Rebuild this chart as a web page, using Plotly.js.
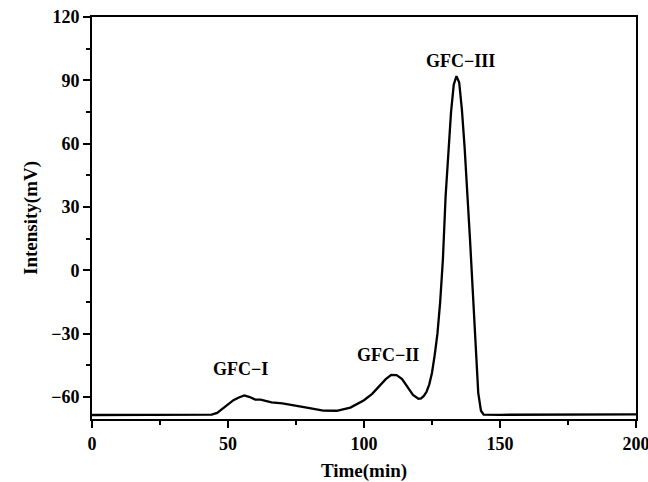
<!DOCTYPE html>
<html><head><meta charset="utf-8">
<script src="https://cdn.plot.ly/plotly-3.0.1.min.js"></script>
<style>body{margin:0;background:#fff}</style>
</head><body>
<div id="chart" style="width:648px;height:482px"></div>
<script>
const time = [0,10,20,30,40,44,46,48,50,52,54,56,58,60,62,64,66,70,75,80,85,90,95,100,103,106,108,110,112,114,116,118,120,121,122,123,124,125,126,127,128,129,130,131,132,133,134,135,136,137,138,139,140,141,142,143,144,150,160,180,200];
const intensity = [-68.5,-68.5,-68.5,-68.5,-68.5,-68.3,-67.5,-65.5,-63.3,-61.5,-60.2,-59.2,-60,-61.2,-61.2,-62,-62.5,-63,-64,-65.3,-66.4,-66.5,-65,-61.5,-58.5,-54.5,-51.5,-49.5,-49.6,-51.5,-55,-59,-60.8,-60.6,-59.5,-57.5,-54,-48.5,-40,-30,-15,5,35,57,75,88,92,89,76,58,38,14,-10,-36,-58,-66.5,-68.3,-68.4,-68.4,-68.4,-68.2];
const peakLabels = ["GFC\u2212I","GFC\u2212II","GFC\u2212III"];
const peakX = [54.5,109,135.5];
const peakY = [-46.5,-40,99];

const fam = '"Liberation Serif", "Times New Roman", serif';
const tickFont = {family:fam, size:18, color:'#000', weight:'bold'};
const titleFont = {family:fam, size:19, color:'#000', weight:'bold'};
const annFont = {family:fam, size:18, color:'#000', weight:'bold'};
const trace = {x: time, y: intensity, mode:'lines', line:{color:'#000', width:2.3}, hoverinfo:'skip'};
const layout = {
  width:648, height:482,
  margin:{l:92, r:12, t:17, b:63},
  paper_bgcolor:'#fff', plot_bgcolor:'#fff',
  showlegend:false,
  font: tickFont,
  xaxis:{range:[0,200], dtick:50, tick0:0, ticks:'outside', ticklen:7, tickwidth:2, tickcolor:'#000',
    showline:true, linewidth:2, linecolor:'#000', mirror:true, showgrid:false, zeroline:false,
    ticklabeloverflow:'allow',
    tickfont:tickFont, minor:{dtick:25, ticks:'outside', ticklen:4, tickwidth:2, tickcolor:'#000', showgrid:false},
    title:{text:'Time(min)', font:titleFont, standoff:16}},
  yaxis:{range:[-70.4,120], dtick:30, tick0:0, ticks:'outside', ticklen:7, tickwidth:2, tickcolor:'#000',
    showline:true, linewidth:2, linecolor:'#000', mirror:true, showgrid:false, zeroline:false,
    ticklabeloverflow:'allow',
    tickfont:tickFont, minor:{dtick:15, ticks:'outside', ticklen:4, tickwidth:2, tickcolor:'#000', showgrid:false},
    title:{text:'Intensity(mV)', font:titleFont, standoff:8}},
  annotations: peakLabels.map((t,i)=>({x:peakX[i], y:peakY[i], text:t, showarrow:false, font:annFont, xanchor:'center', yanchor:'middle'}))
};
Plotly.newPlot('chart',[trace],layout,{displayModeBar:false, staticPlot:true});
</script>
</body></html>
